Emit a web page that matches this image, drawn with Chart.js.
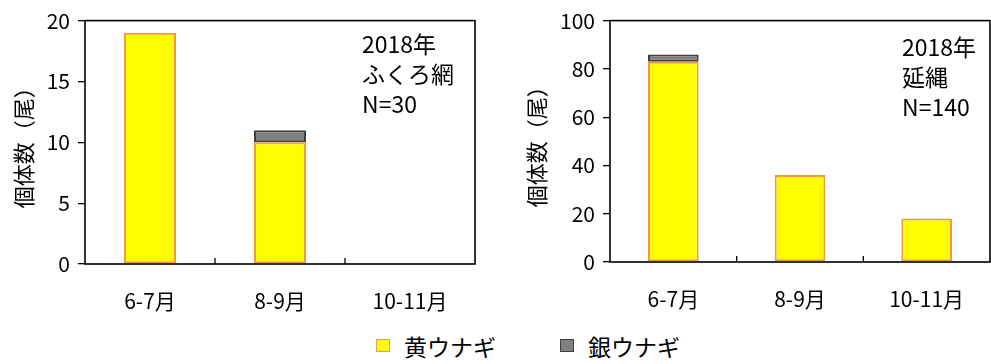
<!DOCTYPE html>
<html>
<head>
<meta charset="utf-8">
<script src="https://cdn.jsdelivr.net/npm/chart.js@4"></script>
<style>
  body { margin: 0; background: #fff; }
  #wrap { position: relative; width: 991px; height: 364px; font-family: "Noto Sans CJK JP", sans-serif; }
  #fukuro { position: absolute; left: 0; top: 0; }
  #haenawa { position: absolute; left: 500px; top: 0; }
  #legend { position: absolute; top: 330px; left: 0; width: 991px; height: 32px; font-size: 23px; color: #000; }
  #legend span.item { position: absolute; top: 0; line-height: 32px; }
  #legend i { position: absolute; width: 12px; height: 11px; top: 9px; }
</style>
</head>
<body>
<div id="wrap">
  <canvas id="fukuro" width="490" height="320"></canvas>
  <canvas id="haenawa" width="491" height="320"></canvas>
  <div id="legend">
    <i style="left:376px;background:#ffff00;border:1.5px solid #f79646"></i>
    <span class="item" style="left:404px">黄ウナギ</span>
    <i style="left:560px;background:#808080;border:1.5px solid #404040"></i>
    <span class="item" style="left:588px">銀ウナギ</span>
  </div>
</div>
<script>
// 時期区分
var periods = ['6-7月', '8-9月', '10-11月'];

// ふくろ網 2018年 (N=30)
var fukuroYellow = [19, 10, 0];
var fukuroSilver = [0, 1, 0];
var fukuroNote = ['2018年', 'ふくろ網', 'N=30'];

// 延縄 2018年 (N=140)
var haenawaYellow = [83, 36, 18];
var haenawaSilver = [3, 0, 0];
var haenawaNote = ['2018年', '延縄', 'N=140'];

var seriesNames = ['黄ウナギ', '銀ウナギ'];
var yTitle = '個体数（尾）';

var FONT = '"Noto Sans CJK JP", sans-serif';

// 枠線・区切り目盛り・注記テキスト
var boxPlugin = {
    id: 'box',
    afterDatasetsDraw: function(chart, args, opts) {
        var ctx = chart.ctx;
        var a = chart.chartArea;
        var x = chart.scales.x;
        ctx.save();
        ctx.strokeStyle = '#000';
        ctx.lineWidth = 1.6;
        ctx.strokeRect(a.left, a.top, a.right - a.left, a.bottom - a.top);

        // カテゴリ境界の内向き目盛り
        ctx.lineWidth = 1.3;
        for (var i = 1; i < periods.length; i++) {
            var px = (x.getPixelForValue(i - 1) + x.getPixelForValue(i)) / 2;
            ctx.beginPath();
            ctx.moveTo(px, a.bottom);
            ctx.lineTo(px, a.bottom - 6);
            ctx.stroke();
        }

        ctx.fillStyle = '#000';
        ctx.font = '23px ' + FONT;
        ctx.textAlign = 'left';
        ctx.textBaseline = 'middle';
        opts.lines.forEach(function(t, k) {
            ctx.fillText(t, opts.x, opts.y + k * 30);
        });
        ctx.restore();
    }
};

function nz(arr) {
    return arr.map(function(v) { return v === 0 ? null : v; });
}

function makeChart(id, yellow, silver, yMax, yStep, pad, yWidth, xHeight, note) {
    var ctx = document.getElementById(id).getContext('2d');
    return new Chart(ctx, {
        type: 'bar',
        data: {
            labels: periods,
            datasets: [{
                label: seriesNames[0],
                data: nz(yellow),
                backgroundColor: '#ffff00',
                borderColor: '#f79646',
                borderWidth: 2,
                borderSkipped: false
            }, {
                label: seriesNames[1],
                data: nz(silver),
                backgroundColor: '#808080',
                borderColor: '#404040',
                borderWidth: 2,
                borderSkipped: false
            }]
        },
        options: {
            responsive: false,
            animation: false,
            events: [],
            layout: { padding: pad },
            datasets: { bar: { categoryPercentage: 0.4, barPercentage: 1 } },
            plugins: {
                legend: { display: false },
                tooltip: { enabled: false },
                box: note
            },
            scales: {
                x: {
                    stacked: true,
                    grid: { display: false },
                    border: { display: false },
                    ticks: { color: '#000', padding: 16, font: { family: FONT, size: 21 } },
                    afterFit: function(s) { s.height = xHeight; }
                },
                y: {
                    stacked: true,
                    min: 0,
                    max: yMax,
                    ticks: { stepSize: yStep, color: '#000', padding: 8, font: { family: FONT, size: 21 } },
                    grid: { drawOnChartArea: false, tickLength: 7, color: '#000', lineWidth: 1.3 },
                    border: { display: false },
                    title: { display: true, text: yTitle, color: '#000', padding: { top: 2, bottom: 0 }, font: { family: FONT, size: 22 } },
                    afterFit: function(s) { s.width = yWidth; }
                }
            }
        },
        plugins: [boxPlugin]
    });
}

makeChart('fukuro', fukuroYellow, fukuroSilver, 20, 5,
    { left: 8, top: 18, right: 15, bottom: 0 }, 77, 56,
    { lines: fukuroNote, x: 362, y: 44 });

makeChart('haenawa', haenawaYellow, haenawaSilver, 100, 20,
    { left: 21, top: 17, right: 1, bottom: 0 }, 89, 58,
    { lines: haenawaNote, x: 402, y: 47 });
</script>
</body>
</html>
